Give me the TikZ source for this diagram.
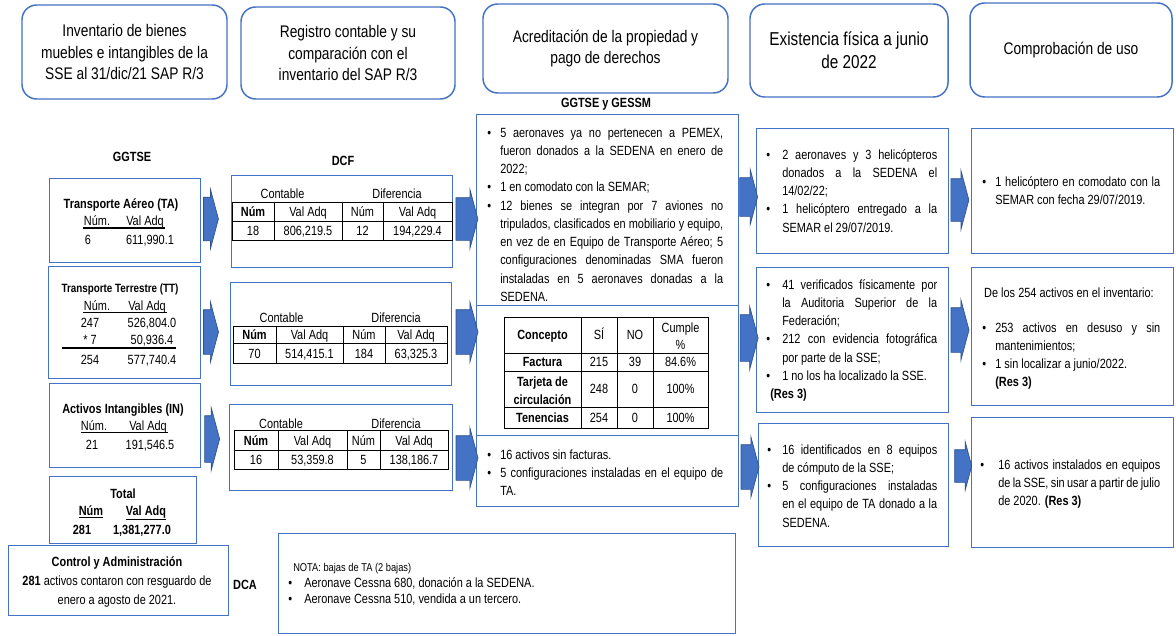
\documentclass[tikz,border=0pt]{standalone}
\usepackage{fontspec}
\setmainfont{Liberation Sans}[FakeStretch=0.82]
\usetikzlibrary{shapes.arrows,positioning}
\definecolor{azul}{HTML}{4472C4}
\definecolor{azulosc}{HTML}{2F528F}
\newlength{\pxu}
\setlength{\pxu}{0.75pt}
\tolerance=9999
\hyphenpenalty=10000
\exhyphenpenalty=10000
\hfuzz=30pt
\hbadness=10000
\newcommand{\bala}[1][9.75pt]{\noindent\hangindent=#1\hangafter=1\hbox to #1{\textbullet\hfil}\ignorespaces}
\newcommand{\punto}[1][9.75pt]{\par\bala[#1]}
\tikzset{
	encab/.style={draw=azul,line width=1.1pt,rounded corners=11pt,align=center,font=\fontsize{12.6}{16.3}\selectfont},
	caja/.style={draw=azul,line width=1.1pt,anchor=north west,inner sep=0pt},
	flecha/.style={single arrow,draw=azulosc,fill=azul,line width=0.5pt,inner xsep=0pt,single arrow head extend=6pt,single arrow tip angle=150},
	txt/.style={inner sep=0pt,font=\fontsize{10}{13.7}\selectfont},
	negr/.style={inner sep=0pt,font=\fontsize{10}{13.7}\selectfont\bfseries},
	lista/.style={txt,anchor=base west,text width=#1,align=justify},
	regla/.style={line width=1.2pt},
	tabla/.style={line width=0.75pt}
}

\begin{document}
\begin{tikzpicture}[x=0.75pt,y=-0.75pt]
	\fill[white] (0,0) rectangle (1176,635);
	\useasboundingbox (0,0) rectangle (1176,635);
	
	%Encabezados
	\node[encab,minimum width=205\pxu,minimum height=94\pxu] (inv) at (124.5,52) {Inventario de bienes\\muebles e intangibles de la\\SSE al 31/dic/21 SAP R/3};
	\node[encab,minimum width=214\pxu,minimum height=92\pxu] (reg) at (348,53) {Registro contable y su\\comparación con el\\inventario del SAP R/3};
	\node[encab,minimum width=245\pxu,minimum height=89\pxu] (acr) at (605.5,48.5) {Acreditación de la propiedad y\\pago de derechos};
	\node[encab,minimum width=198\pxu,minimum height=93\pxu,font=\fontsize{14}{17}\selectfont] (exi) at (849,50.5) {Existencia física a junio\\de 2022};
	\node[encab,minimum width=202\pxu,minimum height=94\pxu] (com) at (1071,50) {Comprobación de uso};
	
	%Etiquetas
	\node[negr,anchor=base] (ggtse) at (132,161) {GGTSE};
	\node[negr,anchor=base] (dcf) at (343,165) {DCF};
	\node[negr,anchor=base] (gessm) at (606,107) {GGTSE y GESSM};
	\node[negr,anchor=base] (dca) at (245,589) {DCA};
	
	%Cajas
	\node[caja,minimum width=151\pxu,minimum height=84\pxu] (ta) at (49,178) {};
	\node[caja,minimum width=152\pxu,minimum height=112\pxu] (tt) at (48,266) {};
	\node[caja,minimum width=151\pxu,minimum height=84\pxu] (in) at (49,383) {};
	\node[caja,minimum width=147\pxu,minimum height=67\pxu] (tot) at (49,476) {};
	\node[caja,minimum width=220\pxu,minimum height=70\pxu] (cya) at (8,545) {};
	\node[caja,minimum width=221\pxu,minimum height=92\pxu] (dcf1) at (231,175) {};
	\node[caja,minimum width=221\pxu,minimum height=103\pxu] (dcf2) at (230,282) {};
	\node[caja,minimum width=223\pxu,minimum height=86\pxu] (dcf3) at (229,404) {};
	\node[caja,minimum width=457\pxu,minimum height=100\pxu] (nota) at (278,533) {};
	\node[caja,minimum width=262\pxu,minimum height=191\pxu] (acr1) at (476,114) {};
	\node[caja,minimum width=262\pxu,minimum height=130\pxu] (acr2) at (476,305) {};
	\node[caja,minimum width=262\pxu,minimum height=71\pxu] (acr3) at (476,435) {};
	\node[caja,minimum width=192\pxu,minimum height=125\pxu] (exi1) at (756,128) {};
	\node[caja,minimum width=192\pxu,minimum height=145\pxu] (exi2) at (756,267) {};
	\node[caja,minimum width=190\pxu,minimum height=123\pxu] (exi3) at (758,423) {};
	\node[caja,minimum width=202\pxu,minimum height=125\pxu] (com1) at (971,128) {};
	\node[caja,minimum width=202\pxu,minimum height=138\pxu] (com2) at (971,267) {};
	\node[caja,minimum width=202\pxu,minimum height=130\pxu] (com3) at (971,417) {};
	
	%Flechas
	\foreach \n/\x/\y/\l/\s in {a1/208/219/15/21.5,a2/208/332/15/22,a3/209/439/15/23,b1/464/219/22/21,b2/464/332/22/22,b3/464/458/22/22,c1/746/197/18/19,c2/746/338/18/23,c3/747/467/18/22,d1/957/200/18/21,d2/957/330/18/22,d3/961/466/17/16}
		\node[flecha,minimum height=\l\pxu,inner ysep=\s\pxu] (\n) at (\x,\y) {};
	
	%Transporte Aereo
	\node[negr,anchor=base] (taT) at (121,208) {Transporte Aéreo (TA)};
	\node[txt,anchor=base] (taN) at (97,225.5) {Núm.};
	\node[txt,anchor=base] (taV) at (145,225.5) {Val Adq};
	\draw[regla] (83,228) -- (165,228);
	\node[txt,anchor=base] (ta1) at (88,244) {6};
	\node[txt,anchor=base] (ta2) at (150,244) {611,990.1};
	
	%Transporte Terrestre
	\node[inner sep=0pt,font=\fontsize{9}{12}\selectfont\bfseries,anchor=base] (ttT) at (120,292) {Transporte Terrestre (TT)};
	\node[txt,anchor=base] (ttN) at (97,310) {Núm.};
	\node[txt,anchor=base] (ttV) at (147,310) {Val Adq};
	\draw[regla] (83,312.5) -- (167,312.5);
	\foreach \y/\a/\b [count=\i] in {327/247/{526,804.0},344/* 7/{50,936.4},364/254/{577,740.4}} {
		\node[txt,anchor=base] (ttA\i) at (90,\y) {\a};
		\node[txt,anchor=base] (ttB\i) at (152,\y) {\b};
	}
	\draw[regla] (62,348) -- (176,348);
	
	%Activos Intangibles
	\node[negr,anchor=base] (inT) at (123,413) {Activos Intangibles (IN)};
	\node[txt,anchor=base] (inN) at (94,430) {Núm.};
	\node[txt,anchor=base] (inV) at (148,430) {Val Adq};
	\draw[regla] (81,432.5) -- (168,432.5);
	\node[txt,anchor=base] (in1) at (92,449) {21};
	\node[txt,anchor=base] (in2) at (150,449) {191,546.5};
	
	%Total
	\node[negr,anchor=base] (totT) at (123,498) {Total};
	\node[negr,anchor=base] (totN) at (91,515) {\underline{Núm}};
	\node[negr,anchor=base] (totV) at (146,515) {\underline{Val Adq}};
	\node[negr,anchor=base] (tot1) at (82,534) {281};
	\node[negr,anchor=base] (tot2) at (142,534) {1,381,277.0};
	
	%Control y Administracion (base = ultima linea)
	\node[txt,anchor=base,align=center,font=\fontsize{10}{13.9}\selectfont] (cyaT) at (117,604) {\textbf{Control y Administración}\\\textbf{281} activos contaron con resguardo de\\enero a agosto de 2021.};
	
	%Tabla DCF 1
	\node[txt,anchor=base] (c1C) at (282.5,198) {Contable};
	\node[txt,anchor=base] (c1D) at (397,198) {Diferencia};
	\draw[tabla] (232,202) rectangle (452,240);
	\draw[tabla] (232,221) -- (452,221);
	\foreach \x in {274,342,383} \draw[tabla] (\x,202) -- (\x,240);
	\foreach \x/\a/\b [count=\i] in {253/\textbf{Núm}/18,308/Val Adq/{806,219.5},362.5/Núm/12,417.5/Val Adq/{194,229.4}} {
		\node[txt,anchor=base] (t1a\i) at (\x,216.5) {\a};
		\node[txt,anchor=base] (t1b\i) at (\x,235.5) {\b};
	}
	
	%Tabla DCF 2
	\node[txt,anchor=base] (c2C) at (281.5,322) {Contable};
	\node[txt,anchor=base] (c2D) at (396,322) {Diferencia};
	\draw[tabla] (233,326) rectangle (447,363.5);
	\draw[tabla] (233,343.5) -- (447,343.5);
	\foreach \x in {276,343,385} \draw[tabla] (\x,326) -- (\x,363.5);
	\foreach \x/\a/\b [count=\i] in {254.5/\textbf{Núm}/70,309.5/Val Adq/{514,415.1},364/Núm/184,416/Val Adq/{63,325.3}} {
		\node[txt,anchor=base] (t2a\i) at (\x,339.5) {\a};
		\node[txt,anchor=base] (t2b\i) at (\x,358) {\b};
	}
	
	%Tabla DCF 3
	\node[txt,anchor=base] (c3C) at (281,428) {Contable};
	\node[txt,anchor=base] (c3D) at (396,428) {Diferencia};
	\draw[tabla] (234,430) rectangle (448,469.5);
	\draw[tabla] (234,450) -- (448,450);
	\foreach \x in {278,347,380} \draw[tabla] (\x,430) -- (\x,469.5);
	\foreach \x/\a/\b [count=\i] in {256/\textbf{Núm}/16,312.5/Val Adq/{53,359.8},363.5/Núm/5,414/Val Adq/{138,186.7}} {
		\node[txt,anchor=base] (t3a\i) at (\x,445) {\a};
		\node[txt,anchor=base] (t3b\i) at (\x,464.5) {\b};
	}
	
	%Nota DCA
	\node[inner sep=0pt,anchor=base west,font=\fontsize{8.5}{10}\selectfont] (notaT) at (293,571) {NOTA: bajas de TA (2 bajas)};
	\node[lista=420\pxu,align=flush left,font=\fontsize{10}{12}\selectfont] (notaL) at (288,587) {\bala[12pt] Aeronave Cessna 680, donación a la SEDENA. \punto[12pt] Aeronave Cessna 510, vendida a un tercero.\par};
	
	%Acreditacion
	\node[lista=236\pxu] (acr1t) at (487,137) {\bala 5 aeronaves ya no pertenecen a PEMEX,\linebreak fueron donados a la SEDENA en enero de\linebreak 2022; \punto 1 en comodato con la SEMAR; \punto 12 bienes se integran por 7 aviones no\linebreak tripulados, clasificados en mobiliario y equipo,\linebreak en vez de en Equipo de Transporte Aéreo; 5\linebreak configuraciones denominadas SMA fueron\linebreak instaladas en 5 aeronaves donadas a la\linebreak SEDENA.\par};
	
	\draw[tabla] (504,317) rectangle (708,428);
	\draw[tabla] (504,353) -- (708,353) (504,371) -- (708,371) (504,407) -- (708,407);
	\foreach \x in {581,617,653} \draw[tabla] (\x,317) -- (\x,428);
	\node[negr,anchor=base] (tbC) at (542.5,339) {Concepto};
	\node[txt,anchor=base] (tbS) at (599,339) {SÍ};
	\node[txt,anchor=base] (tbN) at (635,339) {NO};
	\node[txt,anchor=base,align=center,font=\fontsize{10}{12.75}\selectfont] (tbP) at (680.5,349) {Cumple\\\%};
	\node[negr,anchor=base] (tbF) at (542.5,366) {Factura};
	\node[negr,anchor=base,align=center,font=\fontsize{10}{13.5}\selectfont\bfseries] (tbT) at (542.5,404) {Tarjeta de\\circulación};
	\node[negr,anchor=base] (tbE) at (542.5,422) {Tenencias};
	\foreach \y/\a/\b/\c [count=\i] in {366/215/39/84.6\%,393/248/0/100\%,422/254/0/100\%} {
		\node[txt,anchor=base] (si\i) at (599,\y) {\a};
		\node[txt,anchor=base] (no\i) at (635,\y) {\b};
		\node[txt,anchor=base] (cu\i) at (680.5,\y) {\c};
	}
	
	\node[lista=236\pxu] (acr3t) at (487,459) {\bala 16 activos sin facturas. \punto 5 configuraciones instaladas en el equipo de\linebreak TA.\par};
	
	%Existencia fisica
	\node[lista=171\pxu] (exi1t) at (766,159) {\bala[12pt] 2 aeronaves y 3 helicópteros\linebreak donados a la SEDENA el\linebreak 14/02/22; \punto[12pt] 1 helicóptero entregado a la\linebreak SEMAR el 29/07/2019.\par};
	\node[lista=171\pxu] (exi2t) at (766,289) {\bala[12pt] 41 verificados físicamente por\linebreak la Auditoria Superior de la\linebreak Federación; \punto[12pt] 212 con evidencia fotográfica\linebreak por parte de la SSE; \punto[12pt] 1 no los ha localizado la SSE.\par\noindent\hspace*{3pt}\textbf{(Res 3)}\par};
	\node[lista=170\pxu] (exi3t) at (767,454) {\bala[11.25pt] 16 identificados en 8 equipos\linebreak de cómputo de la SSE; \punto[11.25pt] 5 configuraciones instaladas\linebreak en el equipo de TA donado a la\linebreak SEDENA.\par};
	
	%Comprobacion de uso
	\node[lista=178\pxu] (com1t) at (982,186) {\bala 1 helicóptero en comodato con la\linebreak SEMAR con fecha 29/07/2019.\par};
	\node[txt,anchor=base] (com2a) at (1069,297) {De los 254 activos en el inventario:};
	\node[lista=178\pxu] (com2t) at (982,332) {\bala 253 activos en desuso y sin\linebreak mantenimientos; \punto 1 sin localizar a junio/2022.\par\noindent\hspace*{9.75pt}\textbf{(Res 3)}\par};
	\node[lista=180\pxu] (com3t) at (980,469) {\bala[13.5pt] 16 activos instalados en equipos\linebreak de la SSE, sin usar a partir de julio\linebreak de 2020. \textbf{(Res 3)}\par};
	
\end{tikzpicture}
\end{document}
